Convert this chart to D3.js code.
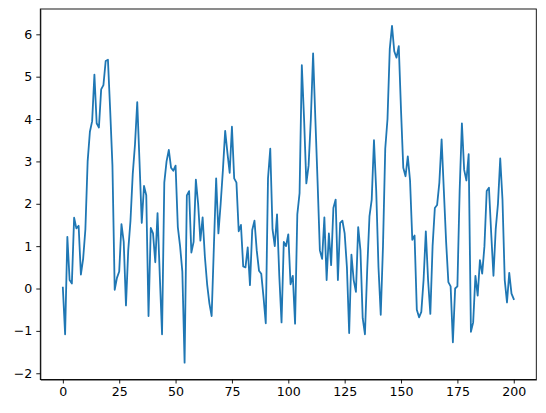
<!DOCTYPE html>
<html>
<head>
<meta charset="utf-8">
<script src="https://cdn.jsdelivr.net/npm/d3@7"></script>
<style>
  body { margin: 0; background: #fff; }
  .axis text { font-family: "DejaVu Sans", sans-serif; font-size: 12.6px; fill: #000; }
  .axis path, .axis line { stroke: #000; stroke-width: 0.9; }
</style>
</head>
<body>
<svg width="546" height="413"></svg>
<script>
// values, index 0..200
var values = [
  0.02, -1.08, 1.22, 0.2, 0.12, 1.67, 1.42, 1.48, 0.33, 0.7,
  1.4, 3.0, 3.7, 3.95, 5.05, 3.9, 3.8, 4.7, 4.8, 5.37,
  5.4, 4.2, 2.9, -0.03, 0.25, 0.4, 1.52, 1.1, -0.4, 0.9,
  1.6, 2.7, 3.4, 4.4, 3.0, 1.55, 2.42, 2.2, -0.65, 1.43,
  1.3, 0.62, 1.78, 0.3, -1.08, 2.5, 3.0, 3.27, 2.85, 2.78,
  2.9, 1.45, 1.0, 0.4, -1.75, 2.2, 2.3, 0.85, 1.1, 2.57,
  2.0, 1.13, 1.68, 0.75, 0.1, -0.35, -0.65, 1.0, 2.6, 1.3,
  2.0, 2.8, 3.72, 3.2, 2.73, 3.82, 2.6, 2.5, 1.35, 1.5,
  0.52, 0.5, 0.97, 0.08, 1.38, 1.6, 0.9, 0.42, 0.35, -0.2,
  -0.82, 2.6, 3.3, 1.4, 1.0, 1.75, 0.3, -0.8, 1.1, 1.0,
  1.28, 0.1, 0.3, -0.83, 1.75, 2.25, 5.27, 4.0, 2.48, 2.9,
  4.0, 5.55, 4.0, 2.5, 0.9, 0.7, 1.68, 0.2, 1.3, 0.55,
  1.9, 2.1, 0.2, 1.55, 1.6, 1.3, 0.5, -1.05, 0.8, 0.2,
  -0.08, 1.45, 0.9, -0.7, -1.08, 0.45, 1.7, 2.1, 3.5, 2.3,
  0.5, -0.62, 1.0, 3.3, 4.0, 5.65, 6.2, 5.6, 5.45, 5.72,
  4.2, 2.85, 2.65, 3.12, 2.55, 1.15, 1.25, -0.5, -0.68, -0.55,
  0.2, 1.35, 0.2, -0.6, 1.0, 1.9, 1.97, 2.5, 3.52, 2.3,
  1.1, 0.15, 0.05, -1.27, 0.0, 0.05, 2.3, 3.9, 2.8, 2.55,
  3.17, -1.02, -0.8, 0.3, -0.17, 0.67, 0.35, 1.0, 2.3, 2.38,
  1.3, 0.3, 1.4, 2.0, 3.07, 2.1, 0.2, -0.33, 0.37, -0.12,
  -0.25
];
var xTicks = [0, 25, 50, 75, 100, 125, 150, 175, 200];
var yTicks = [-2, -1, 0, 1, 2, 3, 4, 5, 6];

var svg = d3.select("svg");
var margin = {left: 40.3, right: 536.3, top: 9, bottom: 379.5};

var n = values.length - 1;
var x = d3.scaleLinear().domain([-0.05 * n, n * 1.05]).range([margin.left, margin.right]);

var ext = d3.extent(values);
var pad = (ext[1] - ext[0]) * 0.05;
var y = d3.scaleLinear().domain([ext[0] - pad, ext[1] + pad]).range([margin.bottom, margin.top]);

var line = d3.line()
  .x(function(d, i) { return x(i); })
  .y(function(d) { return y(d); });

svg.append("path")
  .datum(values)
  .attr("fill", "none")
  .attr("stroke", "#1f77b4")
  .attr("stroke-width", 1.8)
  .attr("stroke-linejoin", "round")
  .attr("stroke-linecap", "square")
  .attr("d", line);

svg.append("g")
  .attr("class", "axis")
  .attr("transform", "translate(0," + margin.bottom + ")")
  .call(d3.axisBottom(x).tickValues(xTicks).tickSize(4).tickPadding(4).tickSizeOuter(0));

svg.append("g")
  .attr("class", "axis")
  .attr("transform", "translate(" + margin.left + ",0)")
  .call(d3.axisLeft(y).tickValues(yTicks).tickSize(4).tickPadding(4).tickSizeOuter(0)
    .tickFormat(function(d) { return d < 0 ? "\u2212" + Math.abs(d) : d; }));

// frame
svg.append("rect")
  .attr("x", margin.left).attr("y", margin.top)
  .attr("width", margin.right - margin.left).attr("height", margin.bottom - margin.top)
  .attr("fill", "none").attr("stroke", "#000").attr("stroke-width", 0.9);
</script>
</body>
</html>
